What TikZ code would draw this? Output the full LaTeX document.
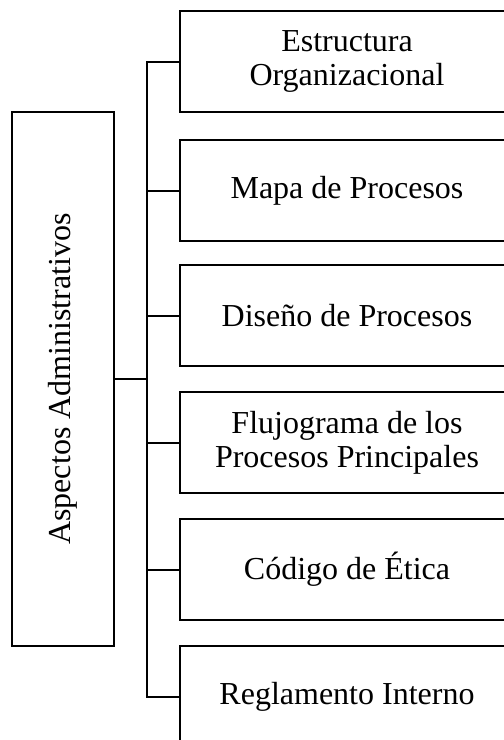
\documentclass[tikz,border=0pt]{standalone}
\usepackage{fontspec}
\setmainfont{Liberation Serif}
\begin{document}
\begin{tikzpicture}[x=1pt,y=-1pt,
  box/.style={draw, line width=2pt, rectangle, minimum width=334pt, minimum height=101pt,
    inner sep=0pt, outer sep=0pt, align=center, anchor=north west,
    font=\fontsize{32}{34}\selectfont},
  link/.style={line width=2pt}]
\useasboundingbox (0,0) rectangle (504,740);
\clip (0,0) rectangle (504,740);
\node[box] (b1) at (180,11) {Estructura\\Organizacional};
\node[box] (b2) at (180,140) {Mapa de Procesos};
\node[box] (b3) at (180,265) {Diseño de Procesos};
\node[box] (b4) at (180,392) {Flujograma de los\\Procesos Principales};
\node[box] (b5) at (180,519) {Código de Ética};
\node[box] (b6) at (180,646) {Reglamento Interno};
\node[draw, line width=2pt, rectangle, minimum width=102pt, minimum height=534pt,
  inner sep=0pt, outer sep=0pt] (L) at (63,379) {};
\node[rotate=90, inner sep=0pt, font=\fontsize{32}{34}\selectfont] (Lt) at (L.center) {Aspectos Administrativos};
\coordinate (j) at (147,379);
\draw[link] (L.east) -- (j);
\draw[link] (b1.west) -- (b1.west -| j) -- (b6.west -| j) -- (b6.west);
\foreach \b in {b2,b3,b4,b5} \draw[link] (\b.west) -- (\b.west -| j);
\end{tikzpicture}
\end{document}
